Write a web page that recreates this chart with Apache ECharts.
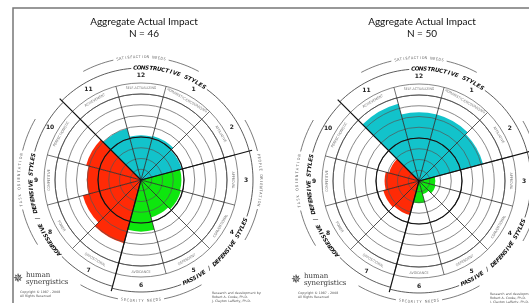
<!DOCTYPE html>
<html>
<head>
<meta charset="utf-8">
<script src="https://cdn.jsdelivr.net/npm/echarts@6/dist/echarts.min.js"></script>
<style>
html, body { margin: 0; padding: 0; background: #fff; }
#main { width: 529px; height: 303px; }
</style>
</head>
<body>
<div id="main"></div>
<script>
// circumplex styles, clockwise from the top (style 12)
var styleNames = ['SELF-ACTUALIZING', 'HUMANISTIC-ENCOURAGING', 'AFFILIATIVE', 'APPROVAL', 'CONVENTIONAL', 'DEPENDENT',
                  'AVOIDANCE', 'OPPOSITIONAL', 'POWER', 'COMPETITIVE', 'PERFECTIONISTIC', 'ACHIEVEMENT'];
var styleNums = ['12', '1', '2', '3', '4', '5', '6', '7', '8', '9', '10', '11'];
var styleGroup = ['c', 'c', 'c', 'p', 'p', 'p', 'p', 'a', 'a', 'a', 'a', 'c'];
var leftValues = [52, 53, 49, 47, 48, 45, 60, 76, 70, 63, 66, 62];
var rightValues = [80, 80, 77, 19, 20, 16, 26, 41, 43, 40, 36, 93];
var titles = ['Aggregate Actual Impact', 'Aggregate Actual Impact'];
var counts = [46, 50];

var groupColor = { c: '#12c3cb', p: '#0ee60e', a: '#ff2a06' };
var centers = [[141, 180], [419, 181]];
var R = 86;   // pixel radius of value 100

var myChart = echarts.init(document.getElementById('main'));

function pt(c, r, deg) {
    var a = deg * Math.PI / 180;
    return [c[0] + r * Math.cos(a), c[1] - r * Math.sin(a)];
}
function rad(d) { return d * Math.PI / 180; }
function tang(deg) {
    var d = ((deg % 360) + 360) % 360;
    return rad(d <= 180 ? d - 90 : d + 90);
}
function arcPts(c, r, a1, a2) {
    var pts = [], n = Math.max(4, Math.ceil(Math.abs(a2 - a1) / 2));
    for (var i = 0; i <= n; i++) pts.push(pt(c, r, a1 + (a2 - a1) * i / n));
    return pts;
}
function txt(x, y, text, font, fill, rot, align) {
    return {
        type: 'text', x: x, y: y, rotation: rot || 0, z: 20, silent: true,
        style: { text: text, font: font, fill: fill, align: align || 'center', verticalAlign: 'middle',
                 textAlign: align || 'center', textVerticalAlign: 'middle' }
    };
}
function line(pts, w, col) {
    return { type: 'polyline', z: 15, silent: true, shape: { points: pts },
             style: { stroke: col || '#222', lineWidth: w, fill: null } };
}
function circle(c, r, w, col) {
    return { type: 'circle', z: 15, silent: true, shape: { cx: c[0], cy: c[1], r: r },
             style: { stroke: col || '#444', lineWidth: w, fill: null } };
}
// text laid out letter by letter along an arc
function curved(els, c, r, text, a1, a2, font, fill) {
    var n = text.length, step = (a2 - a1) / (n - 1);
    var out = a2 < a1;
    for (var i = 0; i < n; i++) {
        var a = a1 + step * i, p = pt(c, r, a);
        els.push(txt(p[0], p[1], text[i], font, fill, rad(out ? a - 90 : a + 90)));
    }
}

function deco(c, k) {
    var els = [];
    // bold 50th percentile ring and label ring border
    els.push(circle(c, R * 0.5, 1.2, '#111'));
    els.push(circle(c, 97, 0.7, '#555'));
    // dividers through the label ring
    for (var i = 0; i < 12; i++) {
        var b = 105 - 30 * i;
        els.push(line([pt(c, R, b), pt(c, 97, b)], 0.7, '#333'));
    }
    // group boundaries drawn bold
    [135, 15, -105].forEach(function (b) {
        els.push(line([pt(c, 0, b), pt(c, 115, b)], 1.2, '#111'));
    });
    // style names and numbers
    for (var j = 0; j < 12; j++) {
        var a = 90 - 30 * j, p = pt(c, 92, a), q = pt(c, 105, a);
        els.push(txt(p[0], p[1], styleNames[j], '3.6px "DejaVu Sans Condensed"', '#777', tang(a)));
        els.push(txt(q[0], q[1], styleNums[j], 'bold 6px "DejaVu Sans"', '#222'));
    }
    // group arcs with curved captions
    var f = 'italic bold 5.6px "DejaVu Sans"';
    els.push(line(arcPts(c, 112, 135, 95), 0.8, '#333'));
    curved(els, c, 112, 'CONSTRUCTIVE STYLES', 93, 56, f, '#111');
    els.push(line(arcPts(c, 112, 54, 15), 0.8, '#333'));
    els.push(line(arcPts(c, 112, 15, -19), 0.8, '#333'));
    curved(els, c, 112, 'PASSIVE / DEFENSIVE STYLES', -67, -21, f, '#111');
    els.push(line(arcPts(c, 112, -69, -105), 0.8, '#333'));
    els.push(line(arcPts(c, 110, 255, 224), 0.8, '#333'));
    curved(els, c, 110, 'AGGRESSIVE / DEFENSIVE STYLES', 222, 167, f, '#111');
    els.push(line(arcPts(c, 110, 165, 135), 0.8, '#333'));
    // outer needs / orientation captions
    var g = '3.8px "DejaVu Sans Condensed"';
    curved(els, c, 123, 'SATISFACTION NEEDS', 101, 79, g, '#666');
    els.push(line(arcPts(c, 123, 118, 103), 0.7, '#444'));
    els.push(line(arcPts(c, 123, 77, 62), 0.7, '#444'));
    curved(els, c, 122, 'TASK ORIENTATION', 192, 168, g, '#666');
    els.push(line(arcPts(c, 122, 212, 194), 0.7, '#444'));
    els.push(line(arcPts(c, 122, 166, 150), 0.7, '#444'));
    curved(els, c, 120, 'PEOPLE ORIENTATION', 12, -12, g, '#666');
    els.push(line(arcPts(c, 120, 30, 14), 0.7, '#444'));
    els.push(line(arcPts(c, 120, -14, -30), 0.7, '#444'));
    curved(els, c, 121, 'SECURITY NEEDS', -99, -81, g, '#666');
    els.push(line(arcPts(c, 121, -120, -101), 0.7, '#444'));
    els.push(line(arcPts(c, 121, -79, -60), 0.7, '#444'));
    // logo and credits
    var lx = c[0] - 123, ly = c[1] + 97;
    els.push(txt(lx, ly + 2, '\u2735', '12px "DejaVu Sans"', '#333'));
    els.push(txt(lx + 8, ly - 2, 'human', '7px "DejaVu Serif"', '#333', 0, 'left'));
    els.push(txt(lx + 8, ly + 5, 'synergistics', '7px "DejaVu Serif"', '#333', 0, 'left'));
    els.push(txt(lx + 2, ly + 15, 'Copyright \u00a9 1987 - 2008', '3.2px "DejaVu Sans"', '#555', 0, 'left'));
    els.push(txt(lx + 2, ly + 19, 'All Rights Reserved', '3.2px "DejaVu Sans"', '#555', 0, 'left'));
    var rx = c[0] + 71, ry = c[1] + 113;
    els.push(txt(rx, ry, 'Research and development by:', '3.2px "DejaVu Sans"', '#555', 0, 'left'));
    els.push(txt(rx, ry + 4, 'Robert A. Cooke, Ph.D.', '3.2px "DejaVu Sans"', '#555', 0, 'left'));
    els.push(txt(rx, ry + 8, 'J. Clayton Lafferty, Ph.D.', '3.2px "DejaVu Sans"', '#555', 0, 'left'));
    return els;
}

var graphics = [line([[13, 303], [13, 8], [529, 8]], 1.5, '#777')];
graphics = graphics.concat(deco(centers[0], 0), deco(centers[1], 1));

function polarAxes(idx) {
    return {
        angle: {
            polarIndex: idx, type: 'category', data: styleNames, startAngle: 105, clockwise: true, z: 5,
            boundaryGap: true,
            axisLine: { lineStyle: { color: '#444', width: 0.8 } },
            axisTick: { show: false }, axisLabel: { show: false },
            splitLine: { show: true, lineStyle: { color: '#222', width: 0.8 } }
        },
        radius: {
            polarIndex: idx, type: 'value', min: 0, max: 100, interval: 12.5, z: 5,
            axisLine: { show: false }, axisTick: { show: false }, axisLabel: { show: false },
            splitLine: { show: true, lineStyle: { color: '#555', width: 0.7 } }
        }
    };
}
var ax0 = polarAxes(0), ax1 = polarAxes(1);

function barData(vals) {
    return vals.map(function (v, i) {
        return { value: v, itemStyle: { color: groupColor[styleGroup[i]] } };
    });
}

option = {
    animation: false,
    backgroundColor: '#fff',
    title: [0, 1].map(function (i) {
        return {
            text: titles[i] + '\nN = ' + counts[i],
            left: centers[i][0] - 2, top: 11, textAlign: 'center',
            textStyle: { fontFamily: 'Lato', fontSize: 10, fontWeight: 'normal', color: '#111', lineHeight: 12 }
        };
    }),
    polar: [
        { center: centers[0], radius: R },
        { center: centers[1], radius: R }
    ],
    angleAxis: [ax0.angle, ax1.angle],
    radiusAxis: [ax0.radius, ax1.radius],
    series: [
        {
            name: 'N = 46', type: 'bar', coordinateSystem: 'polar', polarIndex: 0,
            barCategoryGap: '0%', z: 2, data: barData(leftValues)
        },
        {
            name: 'N = 50', type: 'bar', coordinateSystem: 'polar', polarIndex: 1,
            barCategoryGap: '0%', z: 2, data: barData(rightValues)
        }
    ],
    graphic: { elements: graphics }
};
myChart.setOption(option);
</script>
</body>
</html>
